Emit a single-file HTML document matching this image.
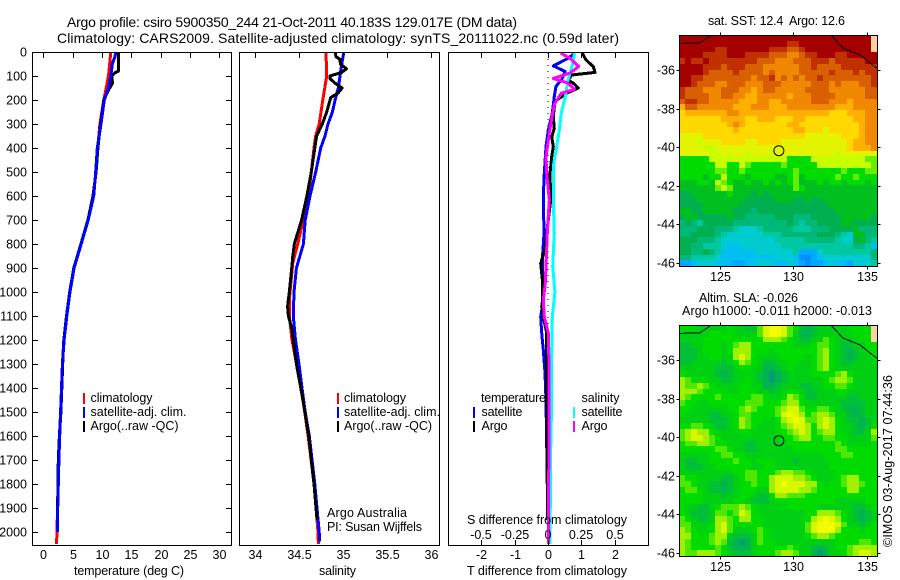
<!DOCTYPE html>
<html>
<head>
<meta charset="utf-8">
<title>Argo profile</title>
<style>
html,body{margin:0;padding:0;background:#fff;}
svg{display:block;}
text{font-family:"Liberation Sans",sans-serif;font-size:12.5px;fill:#000;}
.t{font-size:14px;}
</style>
</head>
<body>
<svg id="chart" xmlns="http://www.w3.org/2000/svg" width="900" height="580" viewBox="0 0 900 580">
<rect width="900" height="580" fill="#fff"/>
<text class="t" x="67" y="27" textLength="450" lengthAdjust="spacing">Argo profile: csiro 5900350_244 21-Oct-2011 40.183S 129.017E (DM data)</text>
<text class="t" x="57" y="43" textLength="562" lengthAdjust="spacing">Climatology: CARS2009. Satellite-adjusted climatology: synTS_20111022.nc (0.59d later)</text>
<g id="marks"></g>

<text x="74" y="575" textLength="110" lengthAdjust="spacing">temperature (deg C)</text>
<text x="319" y="575" textLength="37" lengthAdjust="spacing">salinity</text>
<text x="467" y="575" textLength="160" lengthAdjust="spacing">T difference from climatology</text>
<text x="467" y="524" textLength="160" lengthAdjust="spacing">S difference from climatology</text>

<g>
<rect x="83" y="393" width="2" height="11" fill="#f00"/>
<text x="90.5" y="402" textLength="62" lengthAdjust="spacing">climatology</text>
<rect x="83" y="407" width="2" height="11" fill="#00f"/>
<text x="90.5" y="416" textLength="96" lengthAdjust="spacing">satellite-adj. clim.</text>
<rect x="83" y="421" width="2" height="11" fill="#000"/>
<text x="90.5" y="430" textLength="88" lengthAdjust="spacing">Argo(..raw -QC)</text>
</g>
<g>
<rect x="337" y="393" width="2" height="11" fill="#f00"/>
<text x="344" y="402" textLength="62" lengthAdjust="spacing">climatology</text>
<rect x="337" y="407" width="2" height="11" fill="#00f"/>
<text x="344" y="416" textLength="96" lengthAdjust="spacing">satellite-adj. clim.</text>
<rect x="337" y="421" width="2" height="11" fill="#000"/>
<text x="344" y="430" textLength="88" lengthAdjust="spacing">Argo(..raw -QC)</text>
<text x="327" y="517" textLength="80" lengthAdjust="spacing">Argo Australia</text>
<text x="327" y="531" textLength="95" lengthAdjust="spacing">PI: Susan Wijffels</text>
</g>
<g>
<text x="481" y="402" textLength="65" lengthAdjust="spacing">temperature</text>
<text x="581.5" y="402" textLength="38" lengthAdjust="spacing">salinity</text>
<rect x="473" y="407" width="2" height="11" fill="#00f"/>
<text x="481.5" y="416" textLength="41" lengthAdjust="spacing">satellite</text>
<rect x="473" y="421" width="2" height="11" fill="#000"/>
<text x="481.5" y="430" textLength="26" lengthAdjust="spacing">Argo</text>
<rect x="573" y="407" width="2" height="11" fill="#0ff"/>
<text x="581.5" y="416" textLength="41" lengthAdjust="spacing">satellite</text>
<rect x="573" y="421" width="2" height="11" fill="#f0f"/>
<text x="581.5" y="430" textLength="26" lengthAdjust="spacing">Argo</text>
</g>

<text x="708" y="25" textLength="137" lengthAdjust="spacing" xml:space="preserve" style="white-space:pre">sat. SST: 12.4  Argo: 12.6</text>
<text x="699" y="302" textLength="99" lengthAdjust="spacing">Altim. SLA: -0.026</text>
<text x="682" y="315" textLength="190" lengthAdjust="spacing">Argo h1000: -0.011 h2000: -0.013</text>
<text transform="translate(892,547) rotate(-90)" textLength="172" lengthAdjust="spacing">©IMOS 03-Aug-2017 07:44:36</text>
</svg>

<script>
// ---------- profile data ----------
const tempTicks = [0,5,10,15,20,25,30];
const salTicks = [34,34.5,35,35.5,36];
const salTickLabels = ['34','34.5','35','35.5','36'];
const depthTicks = [0,100,200,300,400,500,600,700,800,900,1000,1100,1200,1300,1400,1500,1600,1700,1800,1900,2000];
const tDiffTicks = [-2,-1,0,1,2];
const sDiffTicks = [-0.5,-0.25,0,0.25,0.5];
const sDiffTickLabels = ['-0.5','-0.25','0','0.25','0.5'];

const climTDepth = [0,100,200,300,400,500,600,700,800,900,1000,1100,1200,1300,1400,1500,1600,1700,1800,1900,2000,2050];
const climT = [11.5,11.1,10.3,9.65,9.27,9.0,8.5,7.6,6.4,5.2,4.5,3.95,3.5,3.25,3.15,2.95,2.75,2.6,2.5,2.42,2.33,2.25];
const satTDepth = [0,20,50,100,150,200,300,400,500,600,700,800,900,1000,1100,1200,1300,1400,1500,1600,1700,1800,1900,2000];
const satT = [12.4,12.2,11.75,11.5,11.1,10.4,9.83,9.2,8.93,8.58,7.65,6.45,5.25,4.55,4.0,3.55,3.25,3.1,2.95,2.8,2.65,2.55,2.45,2.4];
const argoTDepth = [0,80,85,100,130,160,200,300,400,500,600,700,800,900,1000,1100,1200,1300,1400,1500,1600,1700,1800,1950];
const argoT = [12.78,12.78,12.3,11.65,11.8,11.07,10.3,9.75,9.3,9.0,8.47,7.6,6.4,5.2,4.5,3.95,3.5,3.3,3.15,3.0,2.75,2.55,2.5,2.4];

const climSDepth = [0,100,200,300,350,400,500,600,700,800,879,1033,1100,1200,1296,1437,1604,1800,2000,2050];
const climS = [34.807,34.815,34.77,34.73,34.69,34.67,34.64,34.61,34.55,34.485,34.43,34.39,34.39,34.42,34.47,34.54,34.606,34.67,34.716,34.72];
const satSDepth = [0,50,100,150,200,250,300,350,400,500,600,700,800,900,1000,1100,1200,1300,1400,1500,1600,1800,2000,2040];
const satS = [35.01,34.985,34.966,34.947,34.91,34.88,34.83,34.795,34.747,34.69,34.625,34.57,34.55,34.47,34.443,34.435,34.46,34.5,34.534,34.57,34.617,34.68,34.73,34.735];
const argoSDepth = [0,20,30,50,70,85,100,110,130,150,170,190,250,300,350,400,500,600,700,800,850,900,1000,1060,1100,1150,1200,1300,1400,1500,1600,1800,1950];
const argoS = [34.91,34.92,34.966,34.97,35.04,34.985,34.85,34.85,34.91,34.99,34.947,34.86,34.815,34.765,34.70,34.68,34.64,34.59,34.53,34.447,34.43,34.417,34.39,34.37,34.38,34.417,34.435,34.47,34.52,34.568,34.61,34.67,34.705];

const diffTSatDepth = [5,26,58,81,115,143,185,255,325,394,505,602,754,867,1033,1104,1171,1242,1337,1450,1650];
const diffTSat = [0.81,0.61,0.16,0.51,0.41,0.24,0.19,0.13,0.01,-0.06,-0.11,-0.14,-0.12,-0.17,-0.14,-0.22,-0.19,-0.14,-0.09,-0.06,-0.04];
const diffTArgoDepth = [5,33,61,85,96,117,130,150,172,206,269,318,354,394,436,505,617,754,825,880,963,1033,1060,1104,1171,1283,1450,1950];
const diffTArgo = [1.03,1.14,1.36,1.41,0.71,0.61,0.76,0.91,0.56,0.21,0.16,0.19,0.11,0.16,0.11,0.06,0.08,-0.04,-0.09,-0.22,-0.16,-0.16,-0.19,-0.14,-0.04,-0.04,-0.04,-0.015];
const diffSSatDepth = [5,61,117,185,255,325,394,475,617,754,892,1000,1104,1242,1450,1650,2050];
const diffSSat = [0.2,0.18,0.15,0.13,0.10,0.085,0.065,0.04,0.04,0.047,0.035,0.052,0.032,0.028,0.028,0.02,0.015];
const diffSArgoDepth = [5,26,61,88,110,130,155,172,214,269,338,436,505,617,754,963,1033,1104,1171,1310,1450,2050];
const diffSArgo = [0.095,0.165,0.23,0.165,0.04,0.15,0.2,0.10,0.05,0.03,0.01,-0.015,-0.01,0.01,-0.005,-0.02,-0.035,-0.028,0.002,0.0075,0.008,0.003];

// ---------- map data ----------
const lonTicks = [125,130,135];
const latTicks = [-36,-38,-40,-42,-44,-46];
const coastWestLon = [122.26,123.66,124.34];
const coastWestLat = [-34.62,-34.59,-34.24];
const coastEastLon = [132.6,133.37,134.52,135.66];
const coastEastLat = [-34.24,-34.86,-35.22,-35.9];
const argoLon = [129.017];
const argoLat = [-40.183];

const sstColors = ['#0090ff','#00aaff','#00c0f0','#00ccd0','#00c8a0','#00b878','#00b050','#00c020','#00dc00','#c8ff00','#e4f400','#ffd800','#ffb000','#f08800','#d86000','#c03000','#a40000','#ffd0a0'];
const slaColors = ['#00a070','#00b450','#00c038','#00d014','#00dc00','#50e800','#a0f000','#d8f800','#f4fc00','#ffd0a0'];

const sstGrid = [
[16,16,16,16,16,16,16,16,16,16,16,16,16,16,16,16,16,16,16,16,16,16,16,16,16,16,16,16,16,16,16,16,17],
[16,16,16,16,16,16,16,16,16,16,16,16,16,16,16,16,16,16,15,15,16,16,16,16,16,16,16,16,16,16,16,16,17],
[16,16,16,16,16,16,15,15,16,16,16,16,16,16,16,15,15,15,14,14,15,16,16,16,16,16,16,16,16,16,16,16,17],
[16,16,16,16,15,15,15,15,16,16,16,15,15,15,15,14,14,14,13,13,14,15,15,16,16,16,15,15,16,16,16,16,16],
[15,16,15,15,16,15,15,15,15,15,15,15,15,14,14,14,13,13,13,14,14,14,15,15,15,14,15,15,15,15,15,16,16],
[16,16,16,16,15,15,15,14,15,15,15,14,14,14,13,13,13,13,13,13,14,14,15,14,14,14,14,15,15,15,15,15,15],
[16,16,16,16,15,14,14,14,14,15,14,14,14,14,13,14,13,13,13,13,14,14,14,14,14,15,14,14,14,15,14,15,15],
[16,16,15,15,14,14,14,14,14,14,14,14,13,14,14,15,13,14,13,14,13,14,14,15,14,14,14,14,14,14,14,14,15],
[16,16,15,14,14,14,13,13,14,14,14,13,13,13,14,14,14,13,13,13,13,13,14,14,14,13,14,13,13,13,14,14,15],
[15,14,14,14,13,13,13,14,14,14,13,13,12,13,14,14,13,13,13,13,13,14,14,14,14,13,13,13,13,13,13,14,14],
[15,14,14,14,14,13,13,14,14,13,13,12,12,13,13,13,13,13,12,13,13,13,14,14,14,14,13,13,13,13,13,14,14],
[14,15,15,14,14,13,13,13,13,13,12,12,12,13,13,12,12,13,13,13,13,13,14,14,14,13,13,13,12,13,13,13,13],
[12,14,14,13,13,13,13,13,13,12,12,12,13,13,13,12,12,12,13,13,13,13,13,13,13,13,12,12,12,13,13,13,13],
[11,12,12,12,12,12,12,12,13,13,12,12,12,12,12,12,12,12,12,12,12,12,12,12,12,11,11,11,12,12,12,13,13],
[11,11,11,11,11,11,11,12,12,12,12,11,11,12,12,12,11,11,11,12,12,11,11,11,11,11,11,11,11,12,12,13,13],
[11,11,11,11,11,11,11,11,12,13,12,11,11,11,11,11,11,11,12,12,11,11,11,11,11,11,11,11,11,11,12,13,13],
[11,11,11,11,11,11,11,11,11,12,11,11,11,11,11,11,11,11,11,12,12,11,11,11,10,11,11,11,11,11,12,13,13],
[10,10,10,10,11,11,11,11,11,11,11,11,11,11,11,11,11,11,11,11,11,10,10,10,10,10,10,11,11,11,12,13,13],
[10,10,10,9,10,10,10,11,11,11,11,10,10,11,11,11,11,10,10,10,10,10,10,10,10,10,10,10,11,12,12,13,13],
[10,10,10,10,9,9,10,10,10,10,10,10,10,10,10,10,10,10,10,10,10,10,10,10,10,10,10,10,11,12,12,12,13],
[10,10,10,10,10,9,9,10,9,10,10,9,10,10,10,9,10,10,10,10,10,10,10,10,10,10,9,10,10,10,10,10,10],
[8,8,8,8,8,9,9,9,9,9,9,9,9,9,9,9,9,9,8,8,8,8,9,9,9,9,9,9,9,9,9,8.5,8.5],
[8,8,8,8,8,8,9,9,8,8,9,8.5,8,8,8,8,8,8.5,8,8,8,8,8,9,9,9,9,9,9,9,9,9,8.5],
[8,8,8,8,8,8,8.5,8.5,8,8,8.5,8,8,8,8,8,8,8,8,8.5,8,8,8,8,8,8,8,8.5,8,8,8,8.5,8.5],
[8,8,8,8,7,8,8,9,8,8,8,7,8,8,8,8,7,7,8,8.5,7,8,8,8,8,8,8.5,8,8,8.5,8,8,8],
[7,7,7,8,8,7,9,8.5,8,7,7,8,7,7,8,7,8,7,8,8.5,7,7,7,8,7,8,8,7,8,8,8,7,8],
[7,7,7,7,7,7,8.5,9,8.5,7,7,7,7,7,7,7,7,7,7,8.5,8,7,7,7,7,7,7,7,7,7,7,7,7],
[6,6,7,7,7,7,7,7,8,7,7,7,6,7,6,7,7,7,7,7,7,7,7,7,7,7,7,7,7,7,7,7,7],
[6,6,6,7,7,7,7,7,7,7,7,6,6,6,6,6,7,7,7,6,6,7,6,6,7,7,7,7,7,7,7,7,7],
[6,6,6,6,7,7,7,7,7,7,6,6,6,6,6,6,6,6,6,6,6,6,6,6,6,7,7,7,7,7,7,7,7],
[7,7,6,6,7,7,7,7,7,6,6,6,5,6,6,6,6,6,6,6,6,6,6,6,6,6,7,7,7,7,7,7,7],
[6,7,7,6,6,6,6,6,7,6,6,5,5,5,5,5,6,6,6,5,5,5,6,6,6,6,6,7,7,7,7,7,6],
[5,6,5,4,6,6,6,6,6,5,5,5,5,5,5,5,5,5,6,5,4,5,5,6,6,6,6,7,7,6,6,6,6],
[5,5,5,6,6,6,5,5,5,4,3,3,3,4,5,5,5,5,5,4,4,4,5,5,5,6,6,6,6,7,5,5,5],
[5,5,6,6,6,6,5,4,3,3,3,3,3,3,4,4,4,5,5,5,5,5,5,6,6,6,5,4,3,7,7,5,5],
[6,6,6,5,5,5,4,3,3,3,3,3,3,3,3,3,4,4,4,4,4,5,5,5,5,5,4,3,3,6,7,5,4],
[6,6,5,5,4,4,4,3,2,2,3,3,3,3,3,3,3,4,4,4,4,4,4,4,4,4,4,4,4,5,5,4,2],
[6,6,5,5,6,5,4,2,2,2,2,2,2,3,3,3,3,3,3,4,1,1,1,3,4,4,4,4,4,4,4,4,5],
[5,5,4,4,4,4,3,2,2,2,2,2,2,2,2,2,3,3,3,2,0,0,1,2,3,3,3,3,3,3,3,3,5],
[1,1,2,3,3,3,2,2,2,1,1,2,2,3,3,3,2,2,3,2,1,0,1,1,2,3,2,2,1,3,3,3,4]
];

const slaGrid = [
[4,4,4,3,3,3,3,3,4,3,3,2,2,5,7,8,8,7,5,4,2,1,2,3,3,3,3,3,4,4,4,4,9],
[3,3,3,3,3,4,4,4,4,3,3,3,3,5,7,8,8,7,5,3,1,1,2,3,3,3,3,3,3,4,4,4,9],
[3,3,3,3,4,4,4,4,4,4,4,4,4,4,6,6,6,5,4,3,2,2,3,3,5,4,3,3,3,3,4,4,9],
[2,2,3,3,4,4,4,3,4,5,6,6,4,4,4,4,4,4,4,3,3,3,4,5,5,4,3,2,2,3,3,4,4],
[2,2,2,3,4,4,4,3,4,6,6,6,4,4,4,3,4,4,4,4,4,4,4,5,6,4,3,2,1,2,3,4,4],
[2,2,2,3,3,4,4,3,3,6,7,6,4,3,3,3,3,4,4,4,4,3,4,5,6,4,3,2,1,2,3,3,4],
[2,2,3,3,3,3,3,2,3,4,6,5,4,3,2,2,3,3,4,4,3,3,4,5,6,4,3,2,2,3,3,3,3],
[3,3,3,3,3,3,2,2,2,3,4,4,3,3,1,1,2,3,4,3,3,3,4,5,6,4,3,3,3,3,3,3,3],
[4,3,3,3,3,3,2,1,2,3,3,3,3,2,1,0,1,2,3,3,3,3,4,4,4,4,5,6,4,3,3,3,3],
[6,5,4,4,4,3,3,2,2,3,3,4,3,2,1,0,1,2,3,3,3,3,3,3,4,5,6,6,5,3,3,3,3],
[6,5,5,6,5,4,3,3,3,3,4,4,3,3,1,1,2,3,3,3,2,2,3,3,4,4,5,5,4,3,3,3,3],
[6,6,6,5,4,4,4,4,3,3,4,4,4,3,3,2,3,3,4,4,3,2,2,3,3,3,4,4,3,3,3,3,3],
[6,5,4,4,4,4,5,4,4,4,4,4,5,5,4,3,3,4,6,5,4,2,2,3,3,3,3,3,2,2,3,3,3],
[5,4,4,3,3,4,4,4,4,4,4,5,5,5,4,4,4,5,6,6,4,3,3,3,3,3,3,2,2,2,2,3,3],
[4,4,3,3,3,3,3,3,4,4,5,6,5,4,4,4,5,6,7,7,5,4,4,5,5,4,3,2,1,1,2,3,3],
[4,3,3,3,3,2,2,3,3,4,5,5,4,4,4,4,5,7,8,7,6,4,5,6,6,5,3,3,2,1,2,3,3],
[3,3,3,3,3,2,2,2,3,4,6,5,4,4,3,3,4,6,7,8,7,5,5,6,7,6,4,3,2,2,1,2,3],
[4,4,5,5,4,3,2,2,3,4,6,5,4,3,3,3,4,5,6,7,7,6,4,6,7,6,4,3,3,2,1,2,4],
[5,6,7,6,6,4,3,3,3,3,4,4,3,3,3,3,4,4,5,6,7,6,4,5,6,6,4,3,3,2,2,3,6],
[5,6,7,7,6,5,4,3,3,3,3,3,3,3,3,3,3,4,4,5,6,6,4,4,5,5,4,4,3,3,3,3,5],
[4,5,5,6,6,5,4,4,3,3,3,2,2,3,3,3,3,3,4,4,4,4,4,4,4,4,5,4,3,3,3,3,4],
[4,4,4,4,4,4,5,5,4,3,3,2,2,3,3,3,3,3,3,4,4,4,4,4,4,4,5,5,4,4,4,4,4],
[3,3,3,3,3,4,4,5,5,4,4,3,3,3,3,3,3,3,3,3,3,3,3,3,4,4,4,5,5,4,4,4,4],
[3,2,2,3,3,4,4,4,4,5,4,4,3,4,4,4,3,3,3,2,3,3,3,3,3,4,4,4,4,4,4,4,4],
[3,2,2,2,3,3,4,4,4,4,4,4,3,3,4,4,3,3,3,3,3,3,3,3,3,4,4,4,4,4,4,4,4],
[3,3,3,3,3,3,3,3,3,4,4,5,5,4,4,4,5,6,6,5,5,4,3,3,3,3,4,4,4,4,4,4,4],
[5,4,4,3,3,3,3,2,2,3,4,5,5,4,4,6,7,7,7,6,6,5,4,3,3,3,4,5,6,6,4,4,4],
[5,5,4,3,3,2,2,1,2,3,4,4,5,4,4,6,7,8,7,7,7,6,6,4,3,4,4,5,6,6,5,4,4],
[4,5,5,4,3,2,2,1,2,3,4,4,4,3,3,6,7,7,7,7,6,6,5,4,4,4,4,4,6,6,4,4,4],
[4,4,4,4,3,3,3,2,3,3,4,4,3,2,2,4,6,6,5,5,5,4,4,4,4,4,4,4,4,4,4,4,4],
[4,4,4,4,3,3,3,3,3,4,4,3,2,2,2,3,4,4,4,4,4,4,4,4,4,4,3,3,3,3,3,4,4],
[4,3,3,2,2,3,4,5,5,5,6,5,4,3,3,3,3,3,4,4,4,4,4,3,3,3,3,3,3,2,2,3,4],
[4,3,2,2,2,3,5,5,4,5,7,6,4,3,3,3,3,3,3,3,3,4,4,6,6,6,5,4,3,2,1,2,3],
[5,4,3,2,2,3,6,6,5,4,6,6,4,4,3,3,3,3,3,3,3,4,6,7,8,7,6,4,3,2,1,2,3],
[5,5,3,3,3,4,6,7,5,4,4,4,4,4,3,3,3,3,3,3,3,5,7,8,8,8,7,5,3,3,2,3,4],
[6,5,4,3,3,4,6,7,5,3,3,3,4,5,4,3,3,3,3,3,3,5,7,8,8,8,6,4,4,4,3,4,4],
[6,6,4,4,4,5,6,6,3,2,2,2,3,5,4,3,3,3,3,3,3,4,5,6,6,5,4,4,4,4,4,4,4],
[6,5,4,4,4,5,6,5,2,1,0,1,3,5,4,4,3,3,3,3,3,3,3,3,3,3,4,4,4,4,5,5,4],
[6,5,4,4,4,4,5,4,2,1,1,1,3,4,4,4,4,4,5,4,3,3,2,1,2,3,4,4,5,6,6,6,6],
[6,5,5,6,6,6,5,4,3,2,2,2,3,4,4,4,5,6,6,5,3,3,1,0,1,3,3,4,5,6,7,7,6]
];

// ---------- axis functions ----------
const NS = 'http://www.w3.org/2000/svg';
const root = document.getElementById('marks');
const depthY = d => 52 + d * 0.24;
const tempX = t => 43.3 + t * 5.87;
const salX = s => 255 + (s - 34) * 88;
const tDiffX = t => 548 + t * 33.3;
const sDiffX = s => 548 + s * 133.2;
const lonX = lon => 719.7 + (lon - 125) * 14.73;
const latY = (lat, off) => off + 70 + (-36 - lat) * 19.3;
const LON0 = 122.26, DLON = 6 / 14.73, LAT0 = -34.187, DLAT = 5.78 / 19.3;

function el(tag, parent, attrs) {
  const e = document.createElementNS(NS, tag);
  for (const k in attrs) e.setAttribute(k, attrs[k]);
  parent.appendChild(e);
  return e;
}
function group(name) {
  const g = document.createElementNS(NS, 'g');
  
  
  root.appendChild(g);
  return g;
}
function tickLine(p, x1, y1, x2, y2) {
  const l = el('line', p, {x1: x1, y1: y1, x2: x2, y2: y2, stroke: '#000', 'stroke-width': 1, 'shape-rendering': 'crispEdges'});
  
  
}
function label(p, x, y, str, anchor) {
  const t = el('text', p, {x: x, y: y, 'text-anchor': anchor});
  t.textContent = str;
  
  
}
function frame(p, x0, y0, x1, y1) {
  const r = el('rect', p, {x: x0, y: y0, width: x1 - x0, height: y1 - y0, fill: 'none', stroke: '#000', 'stroke-width': 1, 'shape-rendering': 'crispEdges'});
  
  
}
function profile(p, xs, depths, scale, color, name) {
  let d = '';
  xs.forEach((v, i) => { d += (i ? 'L' : 'M') + scale(v).toFixed(1) + ' ' + depthY(depths[i]).toFixed(1); });
  const path = el('path', p, {d: d, fill: 'none', stroke: color, 'stroke-width': 3, 'shape-rendering': 'crispEdges', 'stroke-linejoin': 'round'});
  
  
}

// ---------- temperature panel ----------
const g1 = group('temperature-panel');
profile(g1, climT, climTDepth, tempX, '#f00', 'climatology-temperature-line');
profile(g1, argoT, argoTDepth, tempX, '#000', 'argo-temperature-line');
profile(g1, satT, satTDepth, tempX, '#00f', 'satellite-temperature-line');
frame(g1, 32.5, 52.5, 231.5, 545.5);
depthTicks.forEach(d => {
  const y = Math.round(depthY(d)) + 0.5;
  tickLine(g1, 32.5, y, 38, y);
  tickLine(g1, 226, y, 231.5, y);
  label(g1, 27, y + 4, String(d), 'end');
});
tempTicks.forEach(t => {
  const x = Math.round(tempX(t)) + 0.5;
  tickLine(g1, x, 52.5, x, 58);
  label(g1, x, 559, String(t), 'middle');
});

// ---------- salinity panel ----------
const g2 = group('salinity-panel');
profile(g2, climS, climSDepth, salX, '#f00', 'climatology-salinity-line');
profile(g2, satS, satSDepth, salX, '#00f', 'satellite-salinity-line');
profile(g2, argoS, argoSDepth, salX, '#000', 'argo-salinity-line');
frame(g2, 239.5, 52.5, 439.5, 545.5);
salTicks.forEach((s, i) => {
  const x = Math.round(salX(s)) + 0.5;
  tickLine(g2, x, 52.5, x, 58);
  label(g2, x, 559, salTickLabels[i], 'middle');
});

// ---------- difference panel ----------
const g3 = group('difference-panel');
const zero = el('line', g3, {x1: tDiffX(0), y1: 53, x2: tDiffX(0), y2: 545, stroke: '#000', 'stroke-width': 1, 'stroke-dasharray': '1 5', 'shape-rendering': 'crispEdges'});


profile(g3, diffTSat, diffTSatDepth, tDiffX, '#00f', 'temperature-satellite-difference-line');
profile(g3, diffTArgo, diffTArgoDepth, tDiffX, '#000', 'temperature-argo-difference-line');
profile(g3, diffSSat, diffSSatDepth, sDiffX, '#0ff', 'salinity-satellite-difference-line');
profile(g3, diffSArgo, diffSArgoDepth, sDiffX, '#f0f', 'salinity-argo-difference-line');
frame(g3, 448.5, 52.5, 648.5, 545.5);
tDiffTicks.forEach(t => {
  const x = Math.round(tDiffX(t)) + 0.5;
  tickLine(g3, x, 52.5, x, 58);
  tickLine(g3, x, 540, x, 545.5);
  label(g3, x, 559, String(t), 'middle');
});
sDiffTicks.forEach((s, i) => {
  label(g3, Math.round(sDiffX(s)), 539, sDiffTickLabels[i], 'middle');
});

// ---------- maps ----------
function colorFrom(colors, v) {
  const lo = Math.floor(v), hi = Math.ceil(v);
  if (lo === hi) return colors[lo];
  const a = parseInt(colors[lo].slice(1), 16), b = parseInt(colors[hi].slice(1), 16), f = v - lo;
  const mix = s => Math.round(((a >> s) & 255) * (1 - f) + ((b >> s) & 255) * f);
  return 'rgb(' + mix(16) + ',' + mix(8) + ',' + mix(0) + ')';
}
function drawMap(name, grid, colors, off, bottom) {
  const g = group(name);
  grid.forEach((row, r) => {
    row.forEach((v, c) => {
      const x0 = Math.round(lonX(LON0 + c * DLON));
      const x1 = Math.round(lonX(LON0 + (c + 1) * DLON));
      const y0 = Math.round(latY(LAT0 - r * DLAT, off));
      const y1 = Math.round(latY(LAT0 - (r + 1) * DLAT, off));
      const cell = el('rect', g, {x: x0, y: y0, width: x1 - x0, height: y1 - y0, fill: colorFrom(colors, v), 'shape-rendering': 'crispEdges'});
      
      
    });
  });
  [[coastWestLon, coastWestLat], [coastEastLon, coastEastLat]].forEach(pair => {
    let d = '';
    pair[0].forEach((lon, i) => { d += (i ? 'L' : 'M') + lonX(lon).toFixed(1) + ' ' + latY(pair[1][i], off).toFixed(1); });
    const coast = el('path', g, {d: d, fill: 'none', stroke: '#000', 'stroke-width': 1, 'shape-rendering': 'crispEdges'});
    
    
  });
  const ring = el('circle', g, {cx: lonX(argoLon[0]), cy: latY(argoLat[0], off), r: 5, fill: 'none', stroke: '#000', 'stroke-width': 1});
  
  
  const top = 35.5 + off;
  frame(g, 679.5, top, 877.5, bottom);
  lonTicks.forEach(lon => {
    const x = Math.round(lonX(lon)) + 0.5;
    tickLine(g, x, top - 3, x, top);
    tickLine(g, x, bottom, x, bottom + 3);
    label(g, x, off + 281, String(lon), 'middle');
  });
  latTicks.forEach(lat => {
    const y = Math.round(latY(lat, off)) + 0.5;
    tickLine(g, 676.5, y, 679.5, y);
    tickLine(g, 877.5, y, 880.5, y);
    label(g, 675, y + 4, String(lat), 'end');
  });
}
drawMap('sst-map', sstGrid, sstColors, 0, 266.5);
drawMap('sla-map', slaGrid, slaColors, 290, 556.5);
</script>
</body>
</html>
